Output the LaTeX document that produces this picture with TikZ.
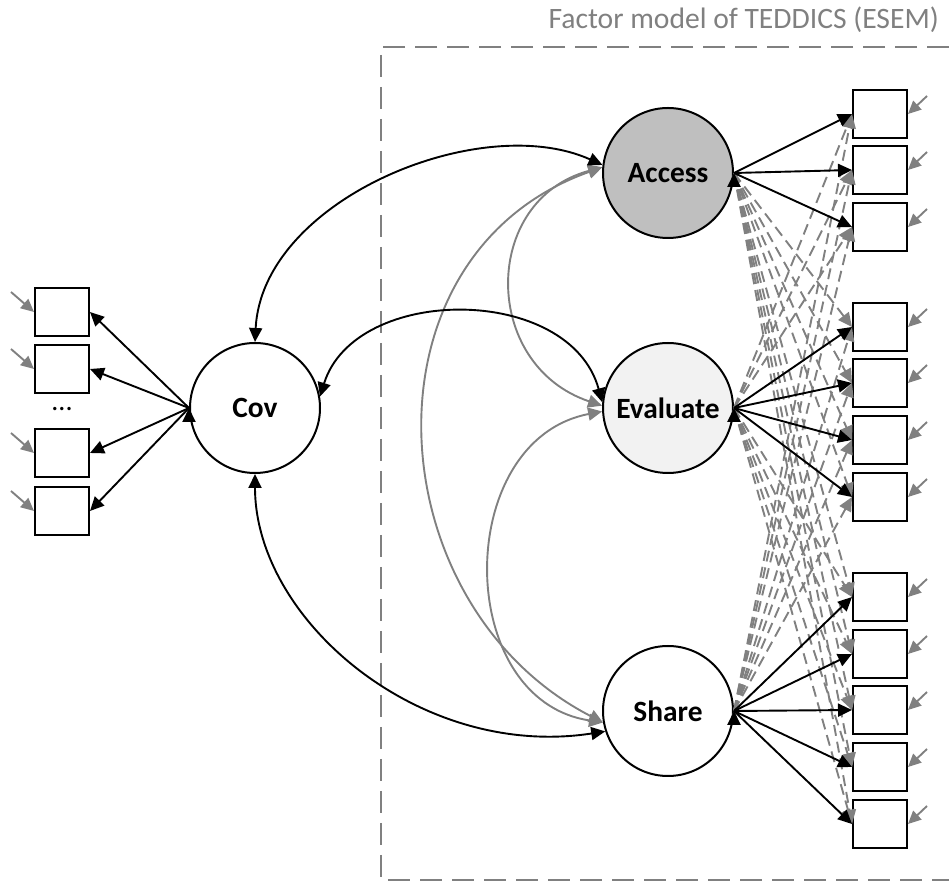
\documentclass[tikz,border=0pt]{standalone}
\usepackage{fontspec}
\setmainfont{Carlito}
\usetikzlibrary{arrows.meta}

\begin{document}
\begin{tikzpicture}[x=0.5pt, y=-0.5pt,
        lat/.style={circle, draw, line width=1pt, minimum size=65pt, inner sep=0pt,
            font=\fontsize{14.7}{17}\selectfont\bfseries},
        ind/.style={rectangle, draw, fill=white, line width=1pt, minimum width=27pt, minimum height=24pt, inner sep=0pt},
        load/.style={-{Triangle[length=7pt,width=6.5pt]}, line width=0.95pt},
        cross/.style={-{Triangle[length=7pt,width=6.5pt]}, gray, line width=0.95pt, dash pattern=on 5.5pt off 3pt},
        covar/.style={{Triangle[length=7pt,width=6.5pt]}-{Triangle[length=7pt,width=6.5pt]}, line width=0.95pt},
        err/.style={-{Triangle[length=6.5pt,width=6pt]}, gray, line width=0.95pt},
        frame/.style={gray, line width=1.1pt, dash pattern=on 11pt off 5pt}]
            \useasboundingbox (0,0) rectangle (949,881);

            \draw[frame] (949,47) -- (381,47) -- (381,880) -- (949,880);
            \node[anchor=base east, text=gray, font=\fontsize{14.8}{17}\selectfont] (title) at (946,29) {Factor model of TEDDICS (ESEM)};

            \node[lat]                  (cov)       at (255,408)    {Cov};
            \node[lat, fill=black!25]   (access)    at (668,173)    {Access};
            \node[lat, fill=black!5]    (evaluate)  at (668,408)    {Evaluate};
            \node[lat]                  (share)     at (668,711)    {Share};

            \node[ind] (c1) at (62,312) {};
            \node[ind] (c2) at (62,369) {};
            \node[font=\fontsize{14}{16}\selectfont] (dots) at (62,409) {...};
            \node[ind] (c3) at (62,453) {};
            \node[ind] (c4) at (62,511) {};

            \node[ind] (a1) at (880,114) {};
            \node[ind] (a2) at (880,170) {};
            \node[ind] (a3) at (880,227) {};
            \node[ind] (e1) at (880,327) {};
            \node[ind] (e2) at (880,383) {};
            \node[ind] (e3) at (880,440) {};
            \node[ind] (e4) at (880,497) {};
            \node[ind] (s1) at (880,597) {};
            \node[ind] (s2) at (880,654) {};
            \node[ind] (s3) at (880,710) {};
            \node[ind] (s4) at (880,767) {};
            \node[ind] (s5) at (880,824) {};

            \draw[cross] (access.east) edge (e1.west) edge (e2.west) edge (e3.west) edge (e4.west)
                edge (s1.west) edge (s2.west) edge (s3.west) edge (s4.west) edge (s5.west);
            \draw[cross] (evaluate.east) edge (a1.west) edge (a2.west) edge (a3.west)
                edge (s1.west) edge (s2.west) edge (s3.west) edge (s4.west) edge (s5.west);
            \draw[cross] (share.east) edge (a1.west) edge (a2.west) edge (a3.west)
                edge (e1.west) edge (e2.west) edge (e3.west) edge (e4.west);

            \draw[load] (access.east) edge (a1.west) edge (a2.west) edge (a3.west);
            \draw[load] (evaluate.east) edge (e1.west) edge (e2.west) edge (e3.west) edge (e4.west);
            \draw[load] (share.east) edge (s1.west) edge (s2.west) edge (s3.west) edge (s4.west) edge (s5.west);
            \draw[load] (cov.west) edge (c1.east) edge (c2.east) edge (c3.east) edge (c4.east);

            \foreach \b in {a1,a2,a3,e1,e2,e3,e4,s1,s2,s3,s4,s5}
                \draw[err] ([shift={(19,-18)}]\b.east) -- (\b.east);
            \foreach \b in {c1,c2,c3,c4}
                \draw[err] ([shift={(-23,-20)}]\b.west) -- (\b.west);

            \draw[covar, gray] (access.175) .. controls (481,200) and (481,365) .. (evaluate.178);
            \draw[covar, gray] (access.175) .. controls (355,255) and (375,605) .. (share.190);
            \draw[covar, gray] (evaluate.183) .. controls (453,440) and (453,700) .. (share.190);

            \draw[covar] (cov.north) .. controls (262,200) and (480,110) .. (access.173);
            \draw[covar] (cov.10) .. controls (355,284) and (570,284) .. (evaluate.175);
            \draw[covar] (cov.south) .. controls (255,620) and (420,760) .. (share.198);
        \end{tikzpicture}
\end{document}
